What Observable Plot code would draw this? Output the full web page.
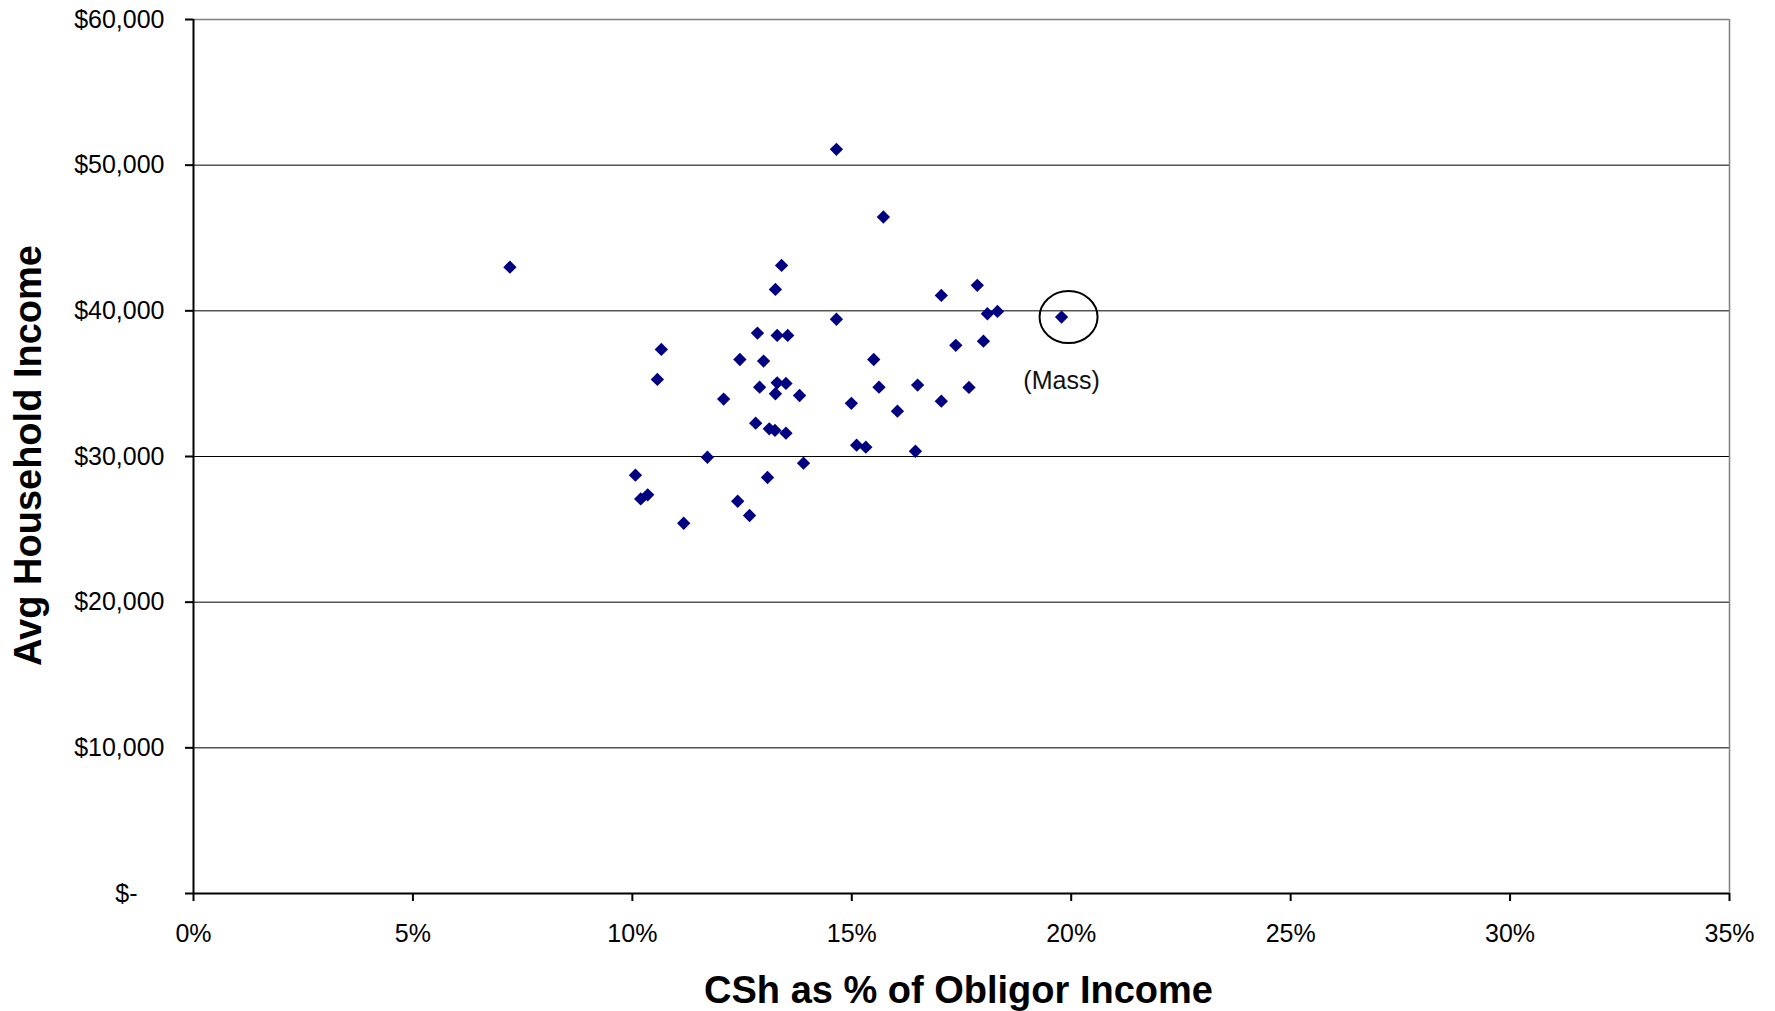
<!DOCTYPE html>
<html>
<head>
<meta charset="utf-8">
<script src="https://cdn.jsdelivr.net/npm/d3@7"></script>
<script src="https://cdn.jsdelivr.net/npm/@observablehq/plot@0.6"></script>
<style>
  html, body { margin: 0; padding: 0; background: #fff; }
  #chart svg { display: block; }
</style>
</head>
<body>
<div id="chart"></div>
<script>
// CSh as % of obligor income (percent)
const cshPct = [
  7.21, 14.65, 15.72, 13.40, 13.26, 14.65, 12.85, 13.30, 13.54, 10.66,
  15.50, 12.45, 12.99, 10.57, 12.90, 13.30, 13.50, 13.26, 13.81, 14.99,
  12.08, 15.62, 17.04, 17.86, 18.09, 18.32, 19.78, 17.37, 18.00, 16.50,
  17.67, 17.04, 16.04, 12.81, 13.12, 13.25, 13.50, 15.11, 15.32, 16.45,
  11.71, 13.90, 10.07, 13.08, 10.19, 10.35, 12.40, 12.67, 11.17
];
// Average household income ($)
const avgIncome = [
  43000, 51090, 46440, 43120, 41470, 39420, 38470, 38310, 38310, 37350,
  36660, 36660, 36550, 35290, 34760, 35060, 35020, 34310, 34190, 33650,
  33940, 34760, 41060, 41750, 39800, 39960, 39570, 37630, 37920, 34900,
  34740, 33800, 33110, 32290, 31900, 31790, 31600, 30780, 30640, 30360,
  29950, 29540, 28720, 28560, 27090, 27370, 26930, 25950, 25420
];
const xTicks = [0, 5, 10, 15, 20, 25, 30, 35];
const yTicks = [0, 10000, 20000, 30000, 40000, 50000, 60000];
const annotationIndex = 26;          // the Massachusetts point
const annotationLabel = ["(Mass)"];
const xTitle = "CSh as % of Obligor Income";
const yTitle = "Avg Household Income";

const points = cshPct.map((x, i) => ({x, y: avgIncome[i]}));
const massPoint = [points[annotationIndex]];
const massText = massPoint.map((p, i) => ({...p, label: annotationLabel[i]}));

const ellipseSymbol = {
  draw(ctx) {
    const rx = 29, ry = 26, k = 0.5523;
    ctx.moveTo(rx, 0);
    ctx.bezierCurveTo(rx, ry * k, rx * k, ry, 0, ry);
    ctx.bezierCurveTo(-rx * k, ry, -rx, ry * k, -rx, 0);
    ctx.bezierCurveTo(-rx, -ry * k, -rx * k, -ry, 0, -ry);
    ctx.bezierCurveTo(rx * k, -ry, rx, -ry * k, rx, 0);
    ctx.closePath();
  }
};

const fmtMoney = d3.format(",");
const font = "'Liberation Sans', Arial, Helvetica, sans-serif";

const chart = Plot.plot({
  width: 1775,
  height: 1011,
  marginLeft: 193,
  marginRight: 46,
  marginTop: 19,
  marginBottom: 118,
  style: {fontFamily: font, fontSize: "25px", color: "#000", background: "#fff", overflow: "visible"},
  x: {domain: [0, 35], axis: null},
  y: {domain: [0, 60000], axis: null},
  marks: [
    Plot.ruleY(yTicks.filter(d => d > 0 && d < 60000), {stroke: "#000", strokeWidth: 1}),
    Plot.ruleY([60000], {stroke: "#808080", strokeWidth: 1.5}),
    Plot.ruleX([35], {stroke: "#808080", strokeWidth: 1.5}),
    Plot.dot(points, {x: "x", y: "y", symbol: "diamond2", r: 6, fill: "#000080", stroke: "none"}),
    Plot.dot(massPoint, {x: "x", y: "y", symbol: ellipseSymbol, r: 6, fill: "none", stroke: "#000", strokeWidth: 2, dx: 7}),
    Plot.text(massText, {x: "x", y: "y", text: "label", dy: 64, fontSize: 25, fill: "#111"}),
    Plot.ruleX([0], {stroke: "#000", strokeWidth: 2}),
    Plot.ruleY([0], {stroke: "#000", strokeWidth: 2}),
    Plot.axisY(yTicks.filter(d => d > 0), {tickSize: 8, tickPadding: 21, strokeWidth: 2, label: null,
      tickFormat: d => "$" + fmtMoney(d)}),
    Plot.axisY([0], {tickSize: 8, tickPadding: 48, strokeWidth: 2, label: null, tickFormat: () => "$-"}),
    Plot.axisX(xTicks, {tickSize: 8, tickPadding: 23, strokeWidth: 2, label: null, tickFormat: d => d + "%"}),
    Plot.text([xTitle], {frameAnchor: "bottom", textAnchor: "middle", dx: -3, dy: 97, lineAnchor: "middle",
      fontSize: 38, fontWeight: "bold", fill: "#000"}),
    Plot.text([yTitle], {frameAnchor: "left", textAnchor: "middle", dx: -165, dy: -1, rotate: -90, lineAnchor: "middle",
      fontSize: 38, fontWeight: "bold", fill: "#000"})
  ]
});
document.getElementById("chart").appendChild(chart);
</script>
</body>
</html>
